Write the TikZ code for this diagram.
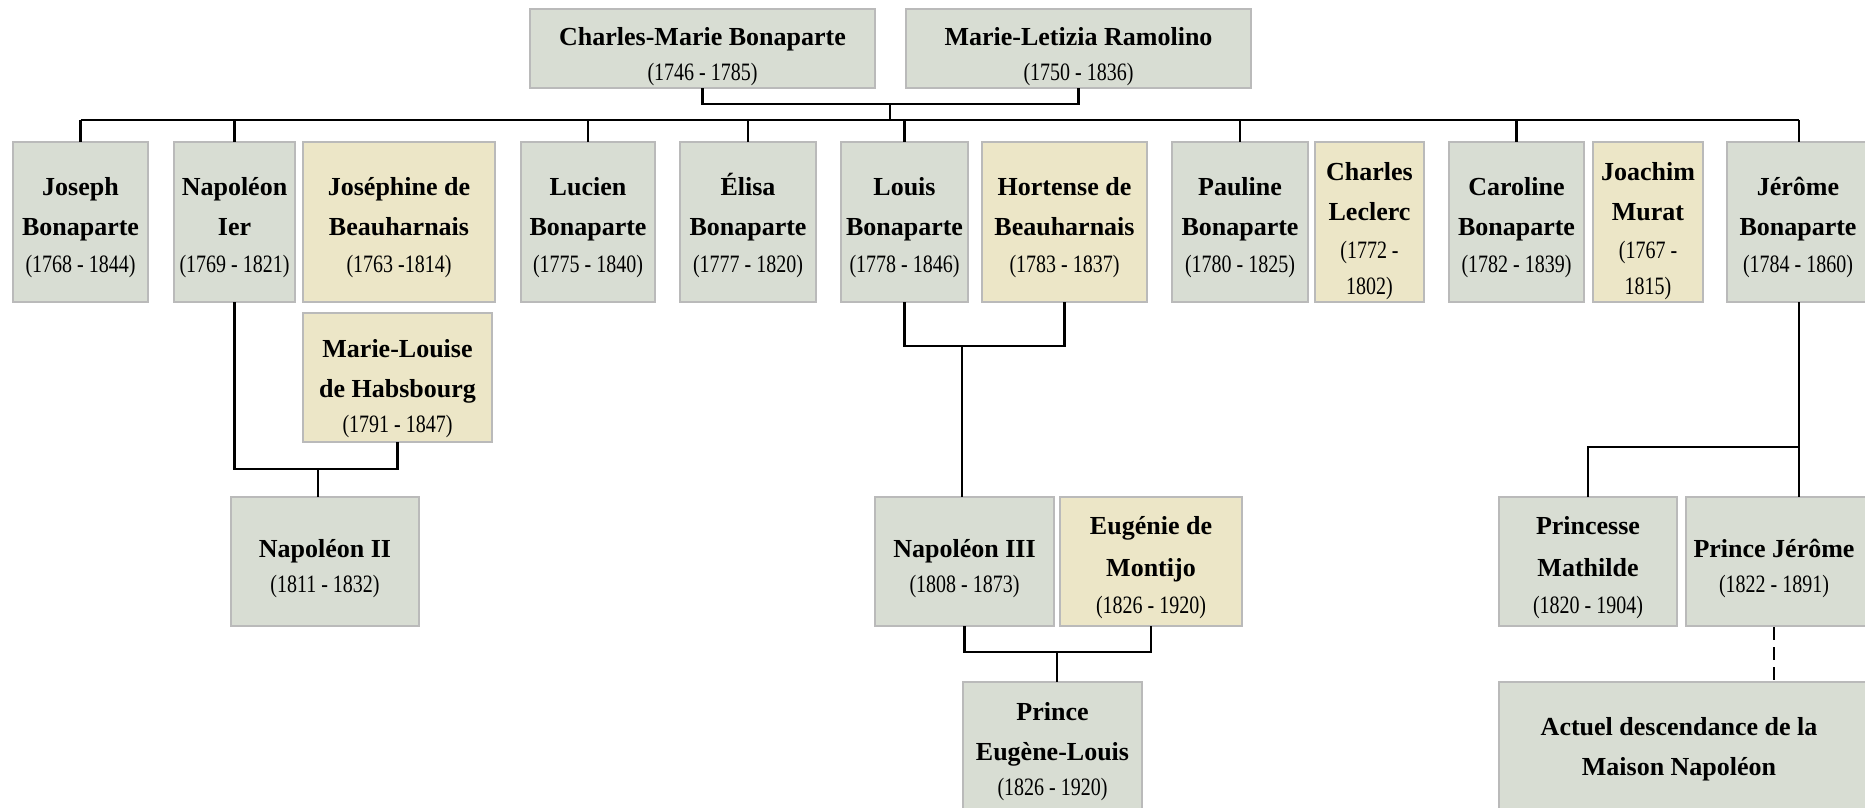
\documentclass[tikz,border=0pt]{standalone}
\usepackage{fontspec}
\setmainfont{Liberation Serif}
\newfontfamily\datefam{Liberation Serif}[FakeStretch=0.8]
\usetikzlibrary{calc}
\definecolor{boxgray}{RGB}{216,221,211}
\definecolor{boxcream}{RGB}{236,230,199}
\definecolor{boxline}{RGB}{186,186,186}
\tikzset{
  pg/.style={draw=boxline, line width=2.6pt, fill=boxgray, inner sep=0pt, outer sep=0pt},
  pc/.style={pg, fill=boxcream},
  nm/.style={anchor=base, inner sep=0pt, font=\fontsize{26}{30}\selectfont\bfseries},
  dt/.style={anchor=base, inner sep=0pt, font=\datefam\fontsize{25}{30}\selectfont},
  link/.style={line width=2.4pt, draw=black},
  dlink/.style={link, dash pattern=on 13pt off 7pt},
}
\newcommand\pbox[6]{\node[#6, minimum width={(#4-#2)*1pt}, minimum height={(#5-#3)*1pt}, anchor=north west] (#1) at (#2,#3) {};}
\newcommand\tx[5]{\node[#4] (#1) at (#2,#3) {#5};}
\begin{document}
\begin{tikzpicture}[x=1pt,y=-1pt]
\useasboundingbox (0,0) rectangle (1865,807);
\clip (0,0) rectangle (1865,807);
\fill[white] (0,0) rectangle (1865,807);

% ---------- boxes ----------
\pbox{cm}{530}{9}{875}{88}{pg}
\pbox{mlr}{906}{9}{1251}{88}{pg}
\pbox{jos}{13}{142}{148}{302}{pg}
\pbox{nap}{174}{142}{295}{302}{pg}
\pbox{josb}{303}{142}{495}{302}{pc}
\pbox{luc}{521}{142}{655}{302}{pg}
\pbox{eli}{680}{142}{816}{302}{pg}
\pbox{lou}{841}{142}{968}{302}{pg}
\pbox{hor}{982}{142}{1147}{302}{pc}
\pbox{pau}{1172}{142}{1308}{302}{pg}
\pbox{lec}{1315}{142}{1424}{302}{pc}
\pbox{car}{1449}{142}{1584}{302}{pg}
\pbox{mur}{1593}{142}{1703}{302}{pc}
\pbox{jer}{1727}{142}{1871}{302}{pg}
\pbox{mlh}{303}{313}{492}{442}{pc}
\pbox{nap2}{231}{497}{419}{626}{pg}
\pbox{nap3}{875}{497}{1054}{626}{pg}
\pbox{eug}{1060}{497}{1242}{626}{pc}
\pbox{eul}{963}{682}{1142}{811}{pg}
\pbox{mat}{1499}{497}{1677}{626}{pg}
\pbox{pj}{1686}{497}{1870}{626}{pg}
\pbox{act}{1499}{682}{1870}{811}{pg}

% ---------- connectors ----------
\coordinate (pbar) at (0,104);
\coordinate (cbar) at (0,120);
\coordinate (pmid) at (890,104);
\draw[link] (cm.south) -- (cm.south |- pbar) -| (mlr.south);
\draw[link] (pmid) -- (pmid |- cbar);
\draw[link] (jos.north |- cbar) -- (jer.north |- cbar);
\foreach \n in {jos,nap,luc,eli,lou,pau,car,jer}
  \draw[link] (\n.north |- cbar) -- (\n.north);

\coordinate (nj) at (0,469);
\coordinate (njm) at (318,469);
\draw[link] (nap.south) -- (nap.south |- nj) -| (mlh.south);
\draw[link] (njm) -- (njm |- nap2.north);

\coordinate (lj) at (0,346);
\coordinate (ljm) at (962,346);
\draw[link] (lou.south) -- (lou.south |- lj) -| (hor.south);
\draw[link] (ljm) -- (ljm |- nap3.north);

\coordinate (n3j) at (0,652);
\coordinate (n3m) at (1057,652);
\draw[link] (nap3.south) -- (nap3.south |- n3j) -| (eug.south);
\draw[link] (n3m) -- (n3m |- eul.north);

\coordinate (jj) at (1799,447);
\draw[link] (jer.south) -- (jer.south |- pj.north);
\draw[link] (jj) -| (mat.north);

\coordinate (pjd) at (1774,627);
\draw[dlink] (pjd) -- (pjd |- act.north);

% ---------- texts ----------
\tx{cm1}{702.5}{45}{nm}{Charles-Marie Bonaparte}
\tx{cm2}{702.5}{80}{dt}{(1746 - 1785)}
\tx{mlr1}{1078.5}{45}{nm}{Marie-Letizia Ramolino}
\tx{mlr2}{1078.5}{80}{dt}{(1750 - 1836)}

\tx{jos1}{80.5}{195}{nm}{Joseph}
\tx{jos2}{80.5}{235}{nm}{Bonaparte}
\tx{jos3}{80.5}{272}{dt}{(1768 - 1844)}
\tx{nap1}{234.5}{195}{nm}{Napoléon}
\tx{nap2t}{234.5}{235}{nm}{Ier}
\tx{nap3t}{234.5}{272}{dt}{(1769 - 1821)}
\tx{josb1}{399}{195}{nm}{Joséphine de}
\tx{josb2}{399}{235}{nm}{Beauharnais}
\tx{josb3}{399}{272}{dt}{(1763 -1814)}
\tx{luc1}{588}{195}{nm}{Lucien}
\tx{luc2}{588}{235}{nm}{Bonaparte}
\tx{luc3}{588}{272}{dt}{(1775 - 1840)}
\tx{eli1}{748}{195}{nm}{Élisa}
\tx{eli2}{748}{235}{nm}{Bonaparte}
\tx{eli3}{748}{272}{dt}{(1777 - 1820)}
\tx{lou1}{904.5}{195}{nm}{Louis}
\tx{lou2}{904.5}{235}{nm}{Bonaparte}
\tx{lou3}{904.5}{272}{dt}{(1778 - 1846)}
\tx{hor1}{1064.5}{195}{nm}{Hortense de}
\tx{hor2}{1064.5}{235}{nm}{Beauharnais}
\tx{hor3}{1064.5}{272}{dt}{(1783 - 1837)}
\tx{pau1}{1240}{195}{nm}{Pauline}
\tx{pau2}{1240}{235}{nm}{Bonaparte}
\tx{pau3}{1240}{272}{dt}{(1780 - 1825)}
\tx{lec1}{1369.5}{180}{nm}{Charles}
\tx{lec2}{1369.5}{220}{nm}{Leclerc}
\tx{lec3}{1369.5}{258}{dt}{(1772 -}
\tx{lec4}{1369.5}{294}{dt}{1802)}
\tx{car1}{1516.5}{195}{nm}{Caroline}
\tx{car2}{1516.5}{235}{nm}{Bonaparte}
\tx{car3}{1516.5}{272}{dt}{(1782 - 1839)}
\tx{mur1}{1648}{180}{nm}{Joachim}
\tx{mur2}{1648}{220}{nm}{Murat}
\tx{mur3}{1648}{258}{dt}{(1767 -}
\tx{mur4}{1648}{294}{dt}{1815)}
\tx{jer1}{1798}{195}{nm}{Jérôme}
\tx{jer2}{1798}{235}{nm}{Bonaparte}
\tx{jer3}{1798}{272}{dt}{(1784 - 1860)}

\tx{mlh1}{397.5}{357}{nm}{Marie-Louise}
\tx{mlh2}{397.5}{397}{nm}{de Habsbourg}
\tx{mlh3}{397.5}{432}{dt}{(1791 - 1847)}

\tx{n21}{325}{557}{nm}{Napoléon II}
\tx{n22}{325}{592}{dt}{(1811 - 1832)}
\tx{n31}{964.5}{557}{nm}{Napoléon III}
\tx{n32}{964.5}{592}{dt}{(1808 - 1873)}
\tx{eug1}{1151}{534}{nm}{Eugénie de}
\tx{eug2}{1151}{576}{nm}{Montijo}
\tx{eug3}{1151}{613}{dt}{(1826 - 1920)}
\tx{mat1}{1588}{534}{nm}{Princesse}
\tx{mat2}{1588}{576}{nm}{Mathilde}
\tx{mat3}{1588}{613}{dt}{(1820 - 1904)}
\tx{pj1}{1774}{557}{nm}{Prince Jérôme}
\tx{pj2}{1774}{592}{dt}{(1822 - 1891)}

\tx{eul1}{1052.5}{720}{nm}{Prince}
\tx{eul2}{1052.5}{760}{nm}{Eugène-Louis}
\tx{eul3}{1052.5}{795}{dt}{(1826 - 1920)}
\tx{act1}{1679}{735}{nm}{Actuel descendance de la}
\tx{act2}{1679}{775}{nm}{Maison Napoléon}
\end{tikzpicture}
\end{document}
